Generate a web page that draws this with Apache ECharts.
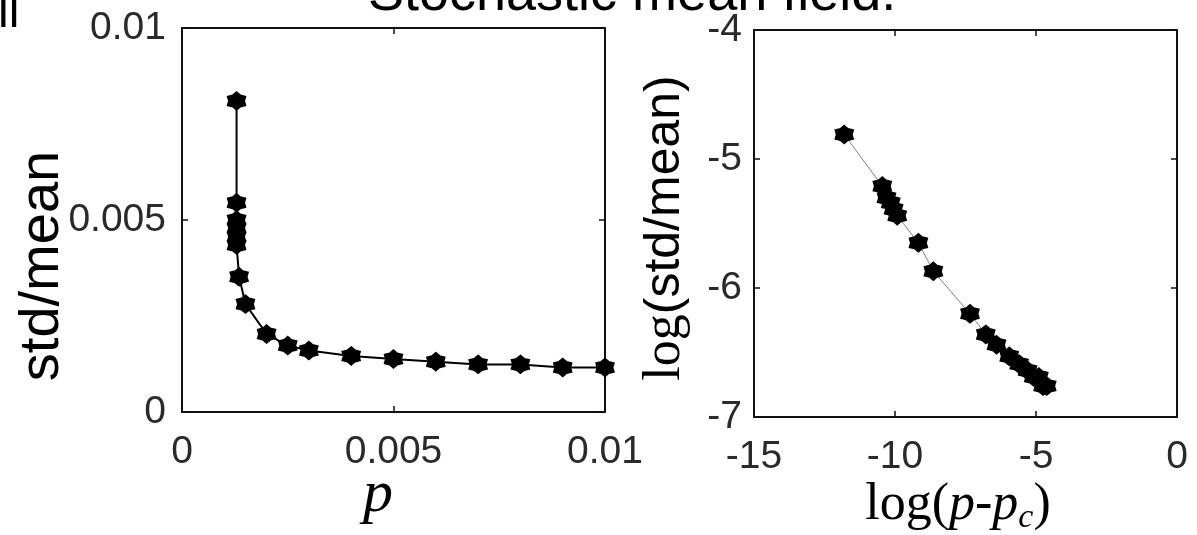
<!DOCTYPE html>
<html>
<head>
<meta charset="utf-8">
<script src="https://cdn.jsdelivr.net/npm/echarts@6/dist/echarts.min.js"></script>
<style>
  html, body { margin: 0; padding: 0; background: #fff; }
  #chart { width: 1197px; height: 535px; }
</style>
</head>
<body>
<div id="chart"></div>
<script>
// Left panel: std/mean against the control parameter p
const pValues = [0.00129, 0.00129, 0.00129, 0.00129, 0.00129, 0.00129, 0.00135, 0.0015,
  0.002, 0.0025, 0.003, 0.004, 0.005, 0.006, 0.007, 0.008, 0.009, 0.010];
const stdOverMean = [0.0081, 0.00545, 0.0050, 0.00479, 0.00456, 0.00435, 0.00352, 0.00281,
  0.00203, 0.00173, 0.00160, 0.00146, 0.00138, 0.00131, 0.00124, 0.00124, 0.00116, 0.00116];

// Right panel: the same data on log-log axes against the distance p - p_c
const logPDiff = [-11.80, -10.45, -10.30, -10.15, -10.05, -9.92, -9.17, -8.64,
  -7.34, -6.78, -6.40, -5.95, -5.60, -5.30, -5.08, -4.90, -4.75, -4.62];
const logStdOverMean = [-4.81, -5.21, -5.30, -5.34, -5.39, -5.44, -5.65, -5.87,
  -6.20, -6.36, -6.44, -6.53, -6.59, -6.64, -6.69, -6.69, -6.76, -6.76];

// Tick values of each axis
const leftXTicks = [0, 0.005, 0.01];
const leftYTicks = [0, 0.005, 0.01];
const rightXTicks = [-15, -10, -5, 0];
const rightYTicks = [-7, -6, -5, -4];

const SANS = "'Liberation Sans', Arial, Helvetica, sans-serif";
const SERIF = "'Liberation Serif', 'Times New Roman', serif";

// filled six-pointed star marker
function starPath(n, R, r) {
  let d = '';
  for (let i = 0; i < 2 * n; i++) {
    const rad = (i % 2 === 0) ? R : r;
    const a = -Math.PI / 2 + i * Math.PI / n;
    d += (i === 0 ? 'M' : 'L') + (rad * Math.cos(a)).toFixed(3) + ',' + (rad * Math.sin(a)).toFixed(3);
  }
  return 'path://' + d + 'Z';
}
const STAR = starPath(6, 10, 7.4);

function axis(gridIndex, ticks, position, showLabel, labelMargin) {
  return {
    type: 'value',
    gridIndex: gridIndex,
    position: position,
    min: ticks[0],
    max: ticks[ticks.length - 1],
    interval: ticks[1] - ticks[0],
    axisLine: { show: true, onZero: false, lineStyle: { color: '#111', width: 2 } },
    axisTick: { show: true, inside: true, length: 6, lineStyle: { color: '#111', width: 1.5 } },
    axisLabel: {
      show: showLabel, color: '#2a2a2a', fontFamily: SANS, fontSize: 39,
      margin: labelMargin, showMinLabel: true, showMaxLabel: true
    },
    splitLine: { show: false }
  };
}

const zip = (xs, ys) => xs.map((x, i) => [x, ys[i]]);

const chart = echarts.init(document.getElementById('chart'), null, { renderer: 'canvas' });

chart.setOption({
  animation: false,
  backgroundColor: '#fff',
  grid: [
    { left: 182, top: 28, width: 423, height: 384, outerBoundsMode: 'none', containLabel: false },
    { left: 754, top: 30, width: 423, height: 387, outerBoundsMode: 'none', containLabel: false }
  ],
  xAxis: [
    axis(0, leftXTicks, 'bottom', true, 21),
    axis(0, leftXTicks, 'top', false, 8),
    axis(1, rightXTicks, 'bottom', true, 21),
    axis(1, rightXTicks, 'top', false, 8)
  ],
  yAxis: [
    axis(0, leftYTicks, 'left', true, 16),
    axis(0, leftYTicks, 'right', false, 8),
    axis(1, rightYTicks, 'left', true, 12),
    axis(1, rightYTicks, 'right', false, 8)
  ],
  series: [
    {
      type: 'line',
      xAxisIndex: 0, yAxisIndex: 0,
      data: zip(pValues, stdOverMean),
      symbol: STAR, symbolSize: 18,
      lineStyle: { color: '#000', width: 2 },
      itemStyle: { color: '#000', borderColor: '#000', borderWidth: 1.5 }
    },
    {
      type: 'line',
      xAxisIndex: 2, yAxisIndex: 2,
      data: zip(logPDiff, logStdOverMean),
      symbol: STAR, symbolSize: 18,
      lineStyle: { color: '#808080', width: 1 },
      itemStyle: { color: '#000', borderColor: '#000', borderWidth: 1.5 }
    }
  ],
  graphic: [
    {
      type: 'text', x: -2, y: 14,
      style: { text: 'll', fontSize: 48, fontFamily: SANS, fill: '#000',
        align: 'left', textAlign: 'left', verticalAlign: 'middle', textVerticalAlign: 'middle' }
    },
    {
      type: 'text', x: 368, y: -5,
      style: { text: 'Stochastic mean field.', fontSize: 54, fontFamily: SANS, fill: '#000',
        align: 'left', textAlign: 'left', verticalAlign: 'middle', textVerticalAlign: 'middle' }
    },
    {
      type: 'text', x: 43, y: 266, rotation: Math.PI / 2,
      style: { text: 'std/mean', fontSize: 56, fontFamily: SANS, fill: '#000',
        align: 'center', textAlign: 'center', verticalAlign: 'middle', textVerticalAlign: 'middle' }
    },
    {
      type: 'text', x: 665, y: 228, rotation: Math.PI / 2,
      style: {
        text: '{a|log}{b|(std/mean)}', fill: '#000',
        align: 'center', textAlign: 'center', verticalAlign: 'middle', textVerticalAlign: 'middle',
        rich: {
          a: { fontFamily: SERIF, fontSize: 52, fill: '#000' },
          b: { fontFamily: SANS, fontSize: 50, fill: '#000' }
        }
      }
    },
    {
      type: 'text', x: 378, y: 495,
      style: { text: 'p', fontSize: 60, fontFamily: SERIF, fontStyle: 'italic', fill: '#000',
        align: 'center', textAlign: 'center', verticalAlign: 'middle', textVerticalAlign: 'middle' }
    },
    {
      type: 'text', x: 958, y: 505,
      style: {
        text: '{n|log(}{i|p}{n|-}{i|p}{s|c}{n|)}', fill: '#000',
        align: 'center', textAlign: 'center', verticalAlign: 'middle', textVerticalAlign: 'middle',
        rich: {
          n: { fontFamily: SERIF, fontSize: 52, lineHeight: 60, fill: '#000' },
          i: { fontFamily: SERIF, fontSize: 52, fontStyle: 'italic', lineHeight: 60, fill: '#000' },
          s: { fontFamily: SERIF, fontSize: 34, fontStyle: 'italic', lineHeight: 32, verticalAlign: 'bottom', fill: '#000' }
        }
      }
    }
  ]
});
</script>
</body>
</html>
